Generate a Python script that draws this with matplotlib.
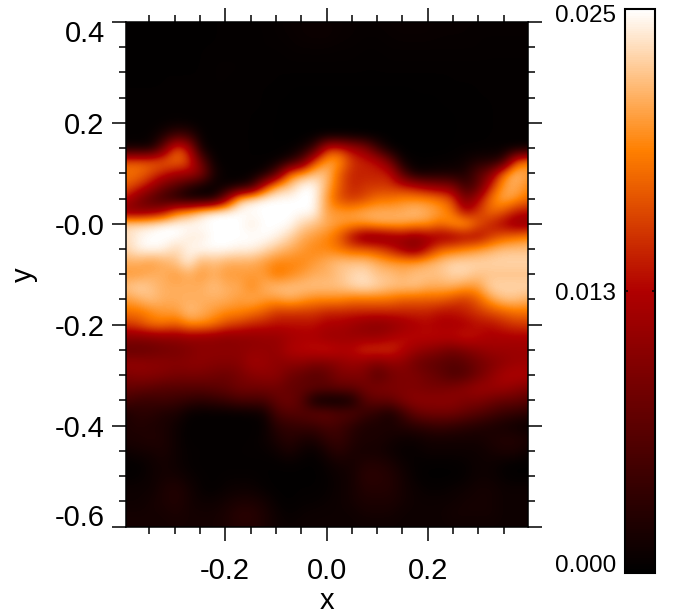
import numpy as np
import matplotlib
matplotlib.use('Agg')
import matplotlib.pyplot as plt
from matplotlib.colors import LinearSegmentedColormap
from matplotlib.transforms import ScaledTranslation

plt.rcParams['font.family'] = ['Liberation Sans', 'DejaVu Sans']
plt.rcParams['axes.unicode_minus'] = False

x_ticks = [-0.2, 0.0, 0.2]
x_labels = ['-0.2', '0.0', '0.2']
y_ticks = [0.4, 0.2, 0.0, -0.2, -0.4, -0.6]
y_labels = ['0.4', '0.2', '-0.0', '-0.2', '-0.4', '-0.6']
cbar_max = 0.025
cbar_mid = 0.0125
cbar_labels = ['0.000', '0.013', '0.025']

# units of 0.001, top row first, 33 columns by 41 rows
field = [
 [.2,.2,.2,.2,.2,.2,.2,.3,.3,.3,.4,.4,.5,.7,.8,.8,.8,.7,.6,.6,.6,.7,.8,.8,.7,.7,.6,.6,.6,.6,.6,.6,.6],
 [.2,.2,.2,.2,.2,.2,.2,.3,.3,.3,.3,.4,.5,.6,.8,.9,.9,.7,.6,.5,.5,.6,.7,.7,.7,.6,.6,.6,.5,.5,.5,.5,.5],
 [.2,.2,.2,.2,.2,.2,.3,.3,.3,.3,.3,.4,.4,.5,.6,.6,.6,.5,.5,.4,.4,.5,.5,.5,.5,.5,.5,.5,.5,.4,.4,.4,.4],
 [.2,.2,.2,.2,.2,.2,.3,.4,.4,.4,.3,.3,.3,.4,.4,.4,.4,.4,.4,.3,.3,.4,.4,.4,.4,.4,.4,.4,.4,.4,.4,.4,.4],
 [.2,.2,.2,.3,.3,.3,.3,.4,.4,.4,.3,.3,.3,.3,.3,.3,.3,.3,.3,.3,.3,.3,.3,.3,.3,.3,.3,.3,.3,.3,.3,.3,.3],
 [.3,.3,.3,.3,.3,.3,.3,.4,.4,.3,.3,.3,.3,.2,.2,.2,.2,.2,.2,.2,.2,.2,.2,.2,.2,.2,.3,.3,.3,.3,.3,.3,.3],
 [.3,.3,.3,.3,.3,.3,.3,.3,.3,.3,.3,.3,.2,.2,.1,.1,.1,.1,.1,.1,.1,.1,.1,.2,.2,.2,.2,.2,.3,.3,.3,.3,.3],
 [.3,.3,.3,.3,.4,.3,.3,.3,.3,.3,.3,.3,.2,.1,.1,.1,.1,.1,.1,.1,.1,.1,.1,.1,.1,.2,.2,.2,.2,.3,.3,.3,.3],
 [.3,.3,.3,.4,.5,.4,.3,.3,.3,.3,.3,.2,.2,.1,.1,.1,.1,.1,.1,.1,.1,.1,.1,.1,.1,.1,.2,.2,.2,.3,.3,.3,.3],
 [.3,.3,.5,2,5,4,.5,.3,.3,.3,.3,.2,.2,.1,.1,.2,.3,.3,.3,.1,.1,.1,.1,.1,.1,.1,.2,.2,.2,.3,.3,.3,.3],
 [1,1,1,8,17,13,1,.3,.3,.3,.3,.2,.2,.2,1,4,15,15,12,10,4,.5,.1,.1,.1,.1,.2,.3,.3,.4,.4,.4,.5],
 [17,17,17,17,18,16,7,.5,.3,.3,.3,.3,.5,2,6,16,20,20,15,14,13,8,1,.3,.3,.4,.5,1,2,2,3,16,19],
 [18,18,16,14,12,12,10,2,.4,.3,.3,1,6,18,20,22,22,17,14,14,14,14,6,1,1,1.5,1.5,2,6,9,18,22,20],
 [17,15,12,8,6,3,1,.5,.5,1,3,14,21,22,25,25,21,17,14,15,15,15,14,13,11,10,9,4,6,14,20,21,19],
 [13,9,6,4,2,.5,.5,1,10,22,24,25,25,25,25,25,20,16,15,16,18,18,19,19,19,18,16,8,12,18,21,20,18],
 [9,9,10,12,18,20,23,25,25,25,25,25,25,25,25,25,20,20,20,21,21,21,21,22,21,20,18,12,15,18,17,14,13],
 [23.5,23.5,24,25,25,25,25,25,25,25,24,25,25,25,23,22,21,20,20,20,21,21,21,20,20,18,20,21,17,14,12,10,10],
 [23,24.5,25,25,25,24,24,25,25,25,25,25,24.5,23,21,20,19,17,12,9,9,10,11,10,11,11,11,12,12,15,17,18,19],
 [23,24.5,25,24.5,23,24.5,25,25,25,24.5,24.5,23.5,22,21,20,19,19,18,17,17,16,14,11,9,13,17,18,19,20,21,22,22,22],
 [21,21,20,21,22,24.5,21,22,21,21,21,20,19,19,19,20,21,22,22,22,21,20,20,20,21,22,23,23,23,23,23,23,23],
 [20,20,21,21,20,21,20,21,20,20,20,20,18,19,20,21,21,22,23,23.5,22,22,21,22,22,22,23,23,22,22,22,22,22],
 [22,23,22,21,21,21,21,22,21,21,19,21,22,22,22,22,22,22,23,23.5,23,22,22,22,21,21,21,20,20,23,23,23,23],
 [20,21,22,21,21,21,21,21,21,20,21,20,20,21,20,19,19,19,18,18,18,18,17,17,17,17,16,15,17,20,22,22,21],
 [18,18,19,20,20,22,21,20,19,19,18,17,15,15,15,15,14,14,14,14,14,14,14,14,14,13,13,14,15,16,17,18,18],
 [15,16,18,18,17,19,19,18,16,15,14,13.5,13,13,13,13,12,12,11,10,9.5,10,11,12,12.5,12,12,12,13,13,14,15,15],
 [9.5,9.5,9.5,10,10,10.5,10,10,9.5,10,10,10.5,10.5,11.5,12,12,11,11,11,11,11,12,13,13,13,13,13,14,13,12,12,12,12],
 [7,7,7.5,8,8.5,9,10,10,10,10,10.5,10.5,10.5,12.5,13,13.5,14,13,13,15,15,15,13,11,10,9,8,9,10,11,11,11,11],
 [10.5,10.5,10,10,9.5,10,10,9.5,9.5,9.5,11.5,11,10,10,10,9,9,10,11,10,9,10,10,8,7,6.5,6,6.5,8,9,10,11,11],
 [9,9.5,9.5,9,8.5,8.5,8.5,8,7.5,8.5,9.5,10,10,8,7,6,7,9,9,9,6,8,9,9,8,7,5.5,6,8,10,12,12.5,12],
 [7,7,6.5,6,6,6,6,6.5,7,8,8,8,8,7,7,7,6.5,7,7,8,9,9,9,9,8.5,8.5,9,10,11,11,11,10,9],
 [5,4,4,4.5,4,3.5,3,3.5,4,5,5,5,7,8,6,.5,0,0,1,6,7,7,9,10,10,10,10,9,9,8,7,7,6],
 [2,3,3,2,2,.5,.3,.3,.3,.3,.5,1,5,6,6,7,7,6,6,4,3,1.5,4,7,8,8,8,7,6,5,4,3.5,3],
 [2,2.5,2,2,1,.3,.3,.3,.3,.3,.3,.5,3,3.5,4,4,5,4.5,3,2,2,2,2.5,3,3.5,4,3.5,3,2.5,2,1.5,1,.5],
 [2,2,2.5,2,1,.3,.3,.3,.3,.3,.4,.8,2,3,2,2,3.5,4,2.5,2,2,1.5,1,1,1.5,1.5,1.5,1.5,1.5,2,2.5,2.5,2],
 [1,1.5,1.5,2,1,.5,.4,.4,.4,.4,.5,.5,1,2,1,.5,2,3,2,1.5,1.5,1,.5,.5,1,1,1,1,1,1.5,2,2,1],
 [.3,.3,1,1.5,1,.5,.3,.3,.3,.3,.3,.3,.3,.5,.3,.2,.8,1.5,1.5,2.5,2.5,2,1,.5,.3,.3,.3,.5,1,1,.5,.2,.2],
 [.3,.5,1,1.5,1.5,.8,.5,.3,.5,.5,.5,.3,.2,.2,.2,.2,.5,1,1.5,3,3,2.5,1.5,.5,.2,.2,.2,.5,1,1,.5,.2,.3],
 [1,1,1,2,2.5,1.5,.5,.3,.8,1,1,.5,.2,.2,.3,.3,.5,1,1.5,2.5,2.5,2.5,1.5,1,.5,.5,.8,1,1.5,1.5,1,1,1],
 [1,1,1.5,2,2.5,1.5,1,1,1.5,2,2,1.5,.5,.2,.5,.5,.8,1,1.5,2,2,2,1.5,1,1,1,1,1.5,1.5,1.5,1,1,1],
 [1.5,1.5,1.5,1.5,2,1.5,1.5,1.5,2,3,3,2,1,.5,.8,1,1,1,1,1.5,1.5,1.5,1,1,1,1,1.5,1.5,1.5,1.5,1,1,1],
 [1.5,1.5,1.5,1.5,1.5,1.5,1.5,1.5,2,2.5,2.5,2,1,.8,1,1,1,1,1,1,1,1,1,1,1,1,1,1,1,1,1,1,1],
]

fire = LinearSegmentedColormap.from_list('fire', [(0.0, (0, 0, 0)),
                                                  (0.5, (0.69, 0, 0)),
                                                  (0.75, (1, 0.5, 0)),
                                                  (1.0, (1, 1, 1))], N=256)

values = np.array(field) * 0.001
x0, x1, y0, y1 = -0.397, 0.397, 0.4, -0.6
dx = (x1 - x0) / (values.shape[1] - 1)
dy = (y0 - y1) / (values.shape[0] - 1)

W, H = 673.0, 616.0
fig = plt.figure(figsize=(6.73, 6.16), dpi=100)
ax = fig.add_axes([125.5 / W, 1 - 526.5 / H, 402 / W, 504.5 / H])
im = ax.imshow(values, cmap=fire, vmin=0, vmax=cbar_max, aspect='auto', interpolation='bicubic',
               extent=[x0 - dx / 2, x1 + dx / 2, y1 - dy / 2, y0 + dy / 2])
ax.set_xlim(x0, x1)
ax.set_ylim(y1, y0)

ax.set_xticks(x_ticks)
ax.set_xticklabels(x_labels)
ax.set_yticks(y_ticks)
ax.set_yticklabels(y_labels)
ax.set_xticks([t for t in np.arange(-0.35, 0.36, 0.05) if min(abs(t - m) for m in x_ticks) > 0.01], minor=True)
ax.set_yticks([t for t in np.arange(-0.55, 0.36, 0.05) if min(abs(t - m) for m in y_ticks) > 0.01], minor=True)
ax.tick_params(which='major', direction='out', length=10, width=1.1, top=True, right=True, labelsize=21)
ax.tick_params(which='minor', direction='out', length=5, width=1.1, top=True, right=True)
ax.tick_params(axis='x', which='major', pad=12)
ax.tick_params(axis='y', which='major', pad=5)
for s in ax.spines.values():
    s.set_linewidth(1.1)
ylabs = ax.get_yticklabels()
ylabs[0].set_va('top')
ylabs[0].set_transform(ylabs[0].get_transform() + ScaledTranslation(0, 2 / 100, fig.dpi_scale_trans))
ylabs[-1].set_va('baseline')
ax.set_xlabel('x', fontsize=21, labelpad=1.5)
ax.set_ylabel('y', fontsize=21, labelpad=12)

cax = fig.add_axes([624.5 / W, 1 - 573 / H, 30 / W, 564 / H])
cb = fig.colorbar(im, cax=cax, ticks=[cbar_mid])
cb.ax.yaxis.set_ticks_position('both')
cb.ax.tick_params(axis='y', direction='in', length=2.5, width=1.1, left=True, right=True,
                  labelleft=True, labelright=False, labelsize=17.5, pad=6)
cb.set_ticklabels([cbar_labels[1]])
cb.outline.set_linewidth(1.5)
cax.text(-0.27, 0.987, cbar_labels[2], transform=cax.transAxes, ha='right', va='center', fontsize=17.5)
cax.text(-0.27, 0.0125, cbar_labels[0], transform=cax.transAxes, ha='right', va='center', fontsize=17.5)

fig.savefig('out.png', dpi=100)
